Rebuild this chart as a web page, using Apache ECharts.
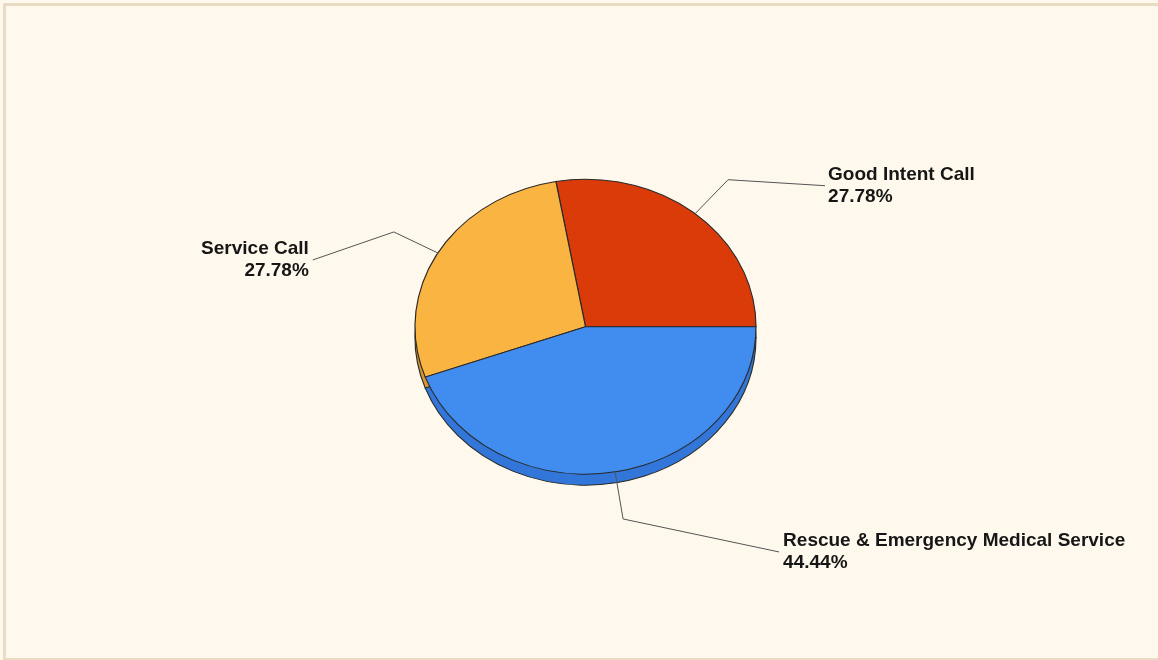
<!DOCTYPE html>
<html>
<head>
<meta charset="utf-8">
<script src="https://cdn.jsdelivr.net/npm/echarts@6/dist/echarts.min.js"></script>
<style>
  html, body { margin: 0; padding: 0; background: #FFF8EC; }
  #wrap { position: relative; width: 1158px; height: 660px; overflow: hidden; background: #FFF8EC; }
  #chart { position: absolute; left: 0; top: 0; width: 1158px; height: 660px; }
  #frame { position: absolute; left: 3px; top: 3px; width: 1170px; height: 652px; border: 3px solid #EADBC4; pointer-events: none; }
</style>
</head>
<body>
<div id="wrap">
  <div id="chart"></div>
  <div id="frame"></div>
</div>
<script>
// ---- data ----
const categories = ['Good Intent Call', 'Service Call', 'Rescue & Emergency Medical Service'];
const values = [5, 5, 8];
const colors = ['#DA3B08', '#F9B442', '#418CEF'];
const sideColors = ['#A82D05', '#D69532', '#3176D8'];

// ---- layout (not data) ----
const layout = {
  cxFrac: 0.5056, cyFrac: 0.495, rx: 170.5, ry: 147.5, depth: 11,
  // label line: [elbow offset from edge point], [end offset from elbow], text gap, side
  labels: [
    { elbow: [33, -34], end: [97, 6], gap: 3, side: 'left' },
    { elbow: [-44, -21], end: [-81, 28], gap: -4, side: 'right' },
    { elbow: [8, 47], end: [156, 33], gap: 4, side: 'left' }
  ]
};

const total = values.reduce((a, b) => a + b, 0);
const startFrac = values.map((v, i) => values.slice(0, i).reduce((a, b) => a + b, 0) / total);

function sliceAngles(i) {
  const a0 = startFrac[i] * 2 * Math.PI;            // counter-clockwise from 3 o'clock
  const a1 = (startFrac[i] + values[i] / total) * 2 * Math.PI;
  return [a0, a1];
}

function sectorEl(cx, cy, i, fill, lw) {
  const [a0, a1] = sliceAngles(i);
  return {
    type: 'sector',
    shape: { cx: cx, cy: cy, r: layout.ry, r0: 0, startAngle: -a0, endAngle: -a1, clockwise: false },
    originX: cx, originY: cy,
    scaleX: layout.rx / layout.ry, scaleY: 1,
    style: { fill: fill, stroke: '#2a2a2a', lineWidth: lw, strokeNoScale: true }
  };
}

const chart = echarts.init(document.getElementById('chart'), null, { renderer: 'canvas' });

const option = {
  backgroundColor: '#FFF8EC',
  animation: false,
  series: [
    {
      type: 'custom',
      coordinateSystem: 'none',
      z: 1,
      data: values.map(v => [v]),
      renderItem: function (params, api) {
        const i = params.dataIndex;
        const cx = api.getWidth() * layout.cxFrac, cy = api.getHeight() * layout.cyFrac;
        return sectorEl(cx, cy + layout.depth, i, sideColors[i], 1);
      }
    },
    {
      type: 'custom',
      coordinateSystem: 'none',
      z: 2,
      data: values.map(v => [v]),
      renderItem: function (params, api) {
        const i = params.dataIndex;
        const cx = api.getWidth() * layout.cxFrac, cy = api.getHeight() * layout.cyFrac;
        return sectorEl(cx, cy, i, colors[i], 1);
      }
    },
    {
      type: 'custom',
      coordinateSystem: 'none',
      z: 3,
      data: values.map(v => [v]),
      renderItem: function (params, api) {
        const i = params.dataIndex;
        const cx = api.getWidth() * layout.cxFrac, cy = api.getHeight() * layout.cyFrac;
        const [a0, a1] = sliceAngles(i);
        const mid = (a0 + a1) / 2;
        const ex = cx + layout.rx * Math.cos(mid), ey = cy - layout.ry * Math.sin(mid);
        const L = layout.labels[i];
        const bx = ex + L.elbow[0], by = ey + L.elbow[1];
        const tx = bx + L.end[0], ty = by + L.end[1];
        const pct = (api.value(0) / total * 100).toFixed(2) + '%';
        return {
          type: 'group',
          children: [
            {
              type: 'polyline',
              shape: { points: [[ex, ey], [bx, by], [tx, ty]] },
              style: { stroke: '#555555', lineWidth: 1, fill: null }
            },
            {
              type: 'text',
              x: tx + L.gap, y: ty,
              style: {
                text: categories[i] + '\n' + pct,
                fill: '#161616',
                font: 'bold 19px "Liberation Sans", Arial, sans-serif',
                lineHeight: 22,
                align: L.side, verticalAlign: 'middle',
                textAlign: L.side, textVerticalAlign: 'middle'
              }
            }
          ]
        };
      }
    }
  ]
};
chart.setOption(option);
</script>
</body>
</html>
